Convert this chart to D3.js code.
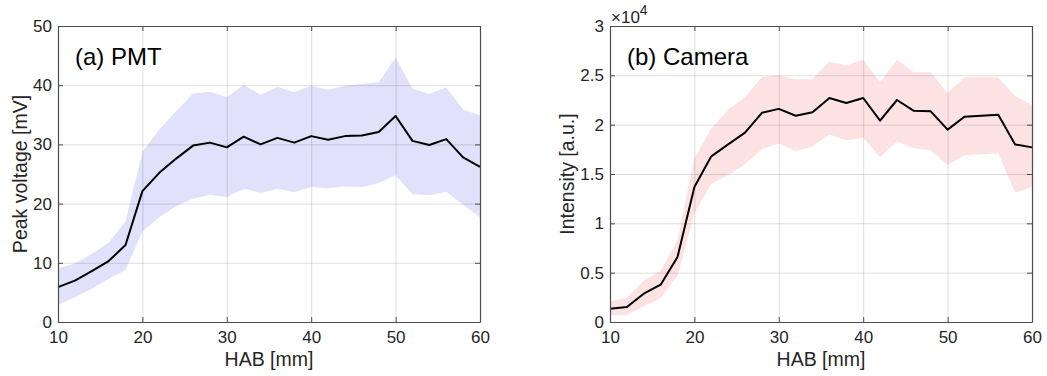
<!DOCTYPE html>
<html>
<head>
<meta charset="utf-8">
<script src="https://cdn.jsdelivr.net/npm/d3@7"></script>
<style>
  body { margin: 0; background: #fff; }
  svg { font-family: "Liberation Sans", Arial, sans-serif; }
</style>
</head>
<body>
<svg id="chart" width="1047" height="376"></svg>
<script>
// HAB positions [mm]
const hab = [10,12,14,16,18,20,22,24,26,28,30,32,34,36,38,40,42,44,46,48,50,52,54,56,58,60];

// (a) PMT peak voltage [mV]
const pmtMean  = [5.9,7.0,8.6,10.3,13.0,22.1,25.2,27.6,29.8,30.3,29.5,31.3,30.0,31.1,30.3,31.4,30.8,31.4,31.5,32.1,34.8,30.6,29.9,30.9,27.8,26.2];
const pmtUpper = [9.1,9.9,11.5,13.4,17.0,28.7,32.5,35.6,38.6,38.9,38.0,40.0,38.4,39.7,38.8,39.9,39.2,39.9,40.2,40.5,44.7,39.4,38.5,39.6,35.9,34.9];
const pmtLower = [2.9,4.2,5.6,7.3,8.8,15.3,17.7,19.6,20.8,21.5,21.1,22.5,21.8,22.5,21.9,22.8,22.6,22.9,22.8,23.5,24.8,21.6,21.4,22.0,19.8,17.7];

// (b) Camera intensity [a.u.]
const camMean  = [1350,1520,2870,3780,6590,13680,16790,18000,19200,21200,21600,20900,21250,22700,22200,22700,20400,22500,21400,21350,19500,20800,20900,21000,18000,17700];
const camUpper = [2100,2400,4200,5200,8300,16600,19600,21500,22800,24800,25000,24600,24600,26400,26000,26600,24300,26600,25300,25300,23200,24800,24800,24800,22900,22000];
const camLower = [700,700,1600,2400,4700,11000,14000,14900,16000,17500,18100,17300,17800,19000,18400,18700,16700,18300,17600,17400,15900,16900,17000,17100,13100,13700];

const xTicks = [10,20,30,40,50,60];
const pmtTicks = [0,10,20,30,40,50];
const camTicks = [0,0.5,1,1.5,2,2.5,3];

const svg = d3.select("#chart");
const plotTop = 26, plotBottom = 322;

function panel(opt) {
  const x = d3.scaleLinear().domain([10, 60]).range([opt.left, opt.right]);
  const y = d3.scaleLinear().domain(opt.yDomain).range([plotBottom, plotTop]);
  const g = svg.append("g");

  // band
  const area = d3.area()
    .x((d, i) => x(hab[i]))
    .y0((d, i) => y(opt.lower[i] / opt.scale))
    .y1((d, i) => y(opt.upper[i] / opt.scale));
  g.append("path").datum(hab).attr("d", area).attr("fill", opt.band).attr("stroke", "none");

  // grid
  g.append("g").attr("transform", `translate(0,${plotBottom})`)
    .call(d3.axisBottom(x).tickValues(xTicks).tickSize(-(plotBottom - plotTop)).tickFormat(""))
    .call(s => s.select(".domain").remove())
    .selectAll("line").attr("stroke", "rgba(0,0,0,0.13)").attr("stroke-width", 1);
  g.append("g").attr("transform", `translate(${opt.left},0)`)
    .call(d3.axisLeft(y).tickValues(opt.yTicks).tickSize(-(opt.right - opt.left)).tickFormat(""))
    .call(s => s.select(".domain").remove())
    .selectAll("line").attr("stroke", "rgba(0,0,0,0.13)").attr("stroke-width", 1);

  // mean line
  const line = d3.line().x((d, i) => x(hab[i])).y((d, i) => y(opt.mean[i] / opt.scale));
  g.append("path").datum(hab).attr("d", line)
    .attr("fill", "none").attr("stroke", "#000").attr("stroke-width", 2).attr("stroke-linejoin", "round");

  // axes (inward ticks, box)
  const axColor = "#4d4d4d";
  const styleAxis = s => {
    s.select(".domain").attr("stroke", axColor).attr("stroke-width", 1.2);
    s.selectAll(".tick line").attr("stroke", axColor);
    s.selectAll(".tick text").attr("fill", "#262626").style("font-size", "17px")
      .style("font-family", "'Liberation Sans', Arial, sans-serif");
  };
  g.append("g").attr("transform", `translate(0,${plotBottom})`)
    .call(d3.axisBottom(x).tickValues(xTicks).tickSizeInner(-5).tickSizeOuter(0).tickPadding(9))
    .call(styleAxis);
  g.append("g").attr("transform", `translate(0,${plotTop})`)
    .call(d3.axisTop(x).tickValues(xTicks).tickSizeInner(-5).tickSizeOuter(0).tickFormat(""))
    .call(styleAxis);
  g.append("g").attr("transform", `translate(${opt.left},0)`)
    .call(d3.axisLeft(y).tickValues(opt.yTicks).tickSizeInner(-5).tickSizeOuter(0).tickPadding(6).tickFormat(opt.fmt))
    .call(styleAxis);
  g.append("g").attr("transform", `translate(${opt.right},0)`)
    .call(d3.axisRight(y).tickValues(opt.yTicks).tickSizeInner(-5).tickSizeOuter(0).tickFormat(""))
    .call(styleAxis);

  // labels
  g.append("text").attr("x", (opt.left + opt.right) / 2).attr("y", 366)
    .attr("text-anchor", "middle").attr("fill", "#262626").style("font-size", "19.5px").text("HAB [mm]");
  g.append("text")
    .attr("transform", `translate(${opt.left - opt.yLabelOffset},${(plotTop + plotBottom) / 2}) rotate(-90)`)
    .attr("text-anchor", "middle").attr("fill", "#262626").style("font-size", "19.5px").text(opt.yLabel);
  g.append("text").attr("x", opt.left + 17).attr("y", 65)
    .attr("fill", "#000").style("font-size", "24px").text(opt.title);
  return g;
}

panel({ left: 58, right: 480, yDomain: [0, 50], yTicks: pmtTicks, scale: 1,
  mean: pmtMean, upper: pmtUpper, lower: pmtLower, band: "#e1e1fb",
  fmt: d3.format("d"), yLabel: "Peak voltage [mV]", yLabelOffset: 31, title: "(a) PMT" });

const gb = panel({ left: 610, right: 1032, yDomain: [0, 3], yTicks: camTicks, scale: 1e4,
  mean: camMean, upper: camUpper, lower: camLower, band: "#fde2e4",
  fmt: d => String(d), yLabelOffset: 36, yLabel: "Intensity [a.u.]", title: "(b) Camera" });

// exponent label
const ex = gb.append("text").attr("x", 611).attr("y", 23).attr("fill", "#262626").style("font-size", "17px");
ex.append("tspan").text("\u00d710");
ex.append("tspan").attr("dy", -8).style("font-size", "14px").text("4");
</script>
</body>
</html>
